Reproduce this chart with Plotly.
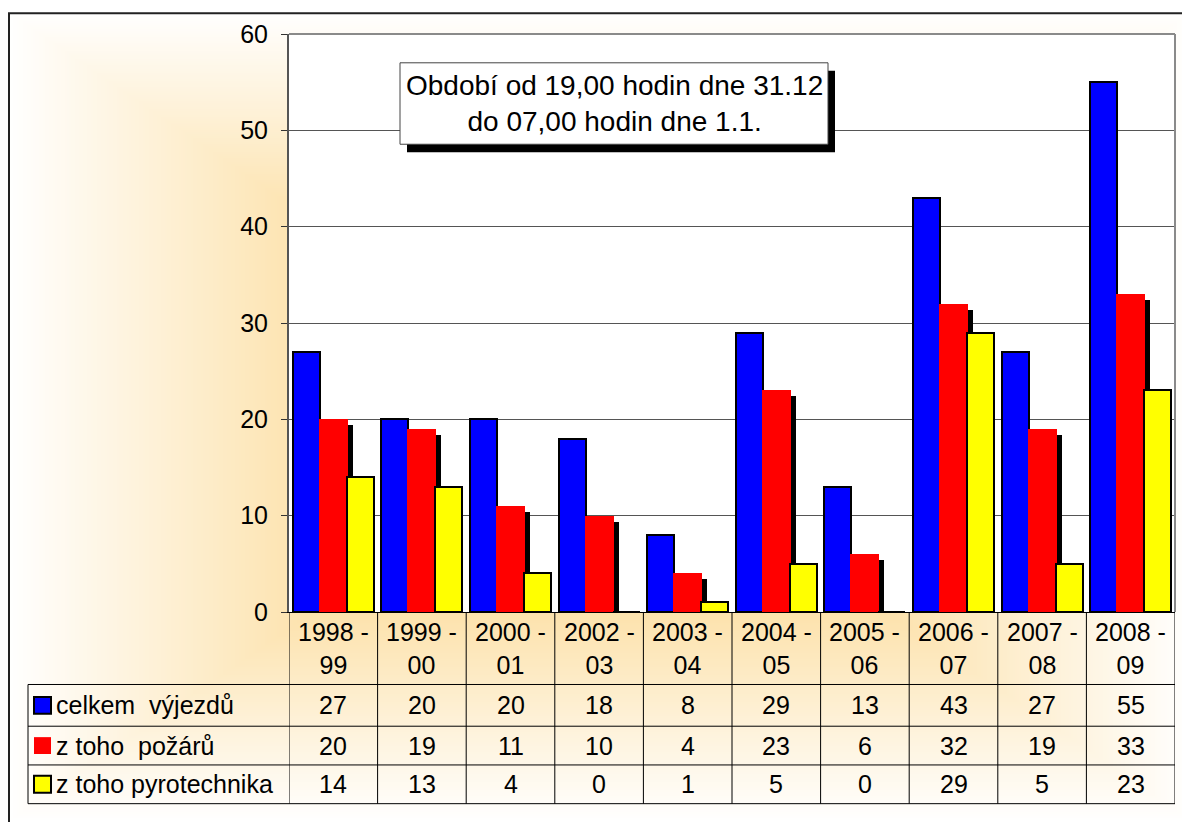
import base64
import struct
import zlib

import numpy as np
import plotly.graph_objects as go

# ---------------- data ----------------
categories = ["1998 - 99", "1999 - 00", "2000 - 01", "2002 - 03", "2003 - 04",
              "2004 - 05", "2005 - 06", "2006 - 07", "2007 - 08", "2008 - 09"]
series_names = ["celkem  výjezdů", "z toho  požárů", "z toho pyrotechnika"]
celkem = [27, 20, 20, 18, 8, 29, 13, 43, 27, 55]
pozaru = [20, 19, 11, 10, 4, 23, 6, 32, 19, 33]
pyro = [14, 13, 4, 0, 1, 5, 0, 29, 5, 23]
y_ticks = [0, 10, 20, 30, 40, 50, 60]
note_lines = ["Období od 19,00 hodin dne 31.12", "do 07,00 hodin dne 1.1."]

# ---------------- geometry (page pixels; the figure sits at an 8px page offset) ----
OFF = 8
W, H = 1190, 822
L, R, T, B = 289, 1175, 30, 612
PW, PH = R - L, B - T
YMAX = 60
FONT = "Liberation Sans, Arial, sans-serif"
FS = 25


def xp(px):
    return (px - L) / PW


def yp(py):
    return (B - py) / PH


ncat = len(categories)
xs = list(range(ncat))
cat_px = PW / ncat
unit_per_px = YMAX / PH


# ---------------- background gradient image ----------------
def png_uri(arr):
    h, w, _ = arr.shape
    raw = b"".join(b"\x00" + arr[i].tobytes() for i in range(h))

    def chunk(tag, data):
        return (struct.pack(">I", len(data)) + tag + data +
                struct.pack(">I", zlib.crc32(tag + data) & 0xFFFFFFFF))

    png = (b"\x89PNG\r\n\x1a\n" +
           chunk(b"IHDR", struct.pack(">IIBBBBB", w, h, 8, 2, 0, 0, 0)) +
           chunk(b"IDAT", zlib.compress(raw, 9)) + chunk(b"IEND", b""))
    return "data:image/png;base64," + base64.b64encode(png).decode()


sc = 2
gw, gh = W // sc, H // sc
gx = OFF + (np.arange(gw) + 0.5) * sc
gy = OFF + (np.arange(gh) + 0.5) * sc
GX, GY = np.meshgrid(gx, gy)
cx, cy, hx, hy = 600.0, 415.0, 592.0, 407.0
t = np.maximum(np.abs(GX - cx) / hx, np.abs(GY - cy) / hy)
t = np.clip(t, 0, 1)
c0 = np.array([250.0, 199.0, 95.0])
img = c0[None, None, :] + t[..., None] * (255.0 - c0[None, None, :])
img = np.clip(np.round(img), 0, 255).astype(np.uint8)
bg_uri = png_uri(img)

# ---------------- figure ----------------
fig = go.Figure()

blue_off, blue_w = -40.5 / cat_px, 27.0 / cat_px
red_off, red_w = -14.5 / cat_px, 29.0 / cat_px
yel_off, yel_w = 13.5 / cat_px, 27.0 / cat_px
shadow_dx, shadow_dy = 5.0 / cat_px, 6.0 * unit_per_px

fig.add_trace(go.Bar(x=xs, y=celkem, offset=blue_off, width=blue_w,
                     marker=dict(color="#0000FF", line=dict(color="black", width=2)),
                     name=series_names[0], showlegend=False))
fig.add_trace(go.Bar(x=xs, y=[max(v - shadow_dy, 0) for v in pozaru],
                     offset=red_off + shadow_dx, width=red_w,
                     marker=dict(color="black", line=dict(width=0)),
                     showlegend=False, hoverinfo="skip"))
fig.add_trace(go.Bar(x=xs, y=pozaru, offset=red_off, width=red_w,
                     marker=dict(color="#FF0000", line=dict(width=0)),
                     name=series_names[1], showlegend=False))
fig.add_trace(go.Bar(x=xs, y=pyro, offset=yel_off, width=yel_w,
                     marker=dict(color="#FFFF00", line=dict(color="black", width=2)),
                     name=series_names[2], showlegend=False))

shapes = []
annotations = []

# white plot area over the gradient
shapes.append(dict(type="rect", xref="paper", yref="paper",
                   x0=0, x1=1, y0=0, y1=1, fillcolor="white",
                   line=dict(width=0), layer="below"))
# outer frame
shapes.append(dict(type="rect", xref="paper", yref="paper",
                   x0=xp(OFF + 1), x1=xp(W + 40), y0=yp(OFF + 1), y1=yp(H + 40),
                   line=dict(color="#222222", width=2), layer="below"))
# plot area border top/right
shapes.append(dict(type="line", xref="paper", yref="paper",
                   x0=xp(L), x1=xp(R), y0=yp(T), y1=yp(T),
                   line=dict(color="#8a8a8a", width=2)))
shapes.append(dict(type="line", xref="paper", yref="paper",
                   x0=xp(R), x1=xp(R), y0=yp(T), y1=yp(B),
                   line=dict(color="#8a8a8a", width=2)))

# note box with shadow
bx0, bx1, by0, by1 = 400, 828, 59, 141
shapes.append(dict(type="rect", xref="paper", yref="paper",
                   x0=xp(bx0 + 7), x1=xp(bx1 + 7), y0=yp(by0 + 8), y1=yp(by1 + 8),
                   fillcolor="black", line=dict(width=0)))
shapes.append(dict(type="rect", xref="paper", yref="paper",
                   x0=xp(bx0), x1=xp(bx1), y0=yp(by0), y1=yp(by1),
                   fillcolor="white", line=dict(color="#444444", width=1)))
annotations.append(dict(xref="paper", yref="paper", x=xp((bx0 + bx1) / 2),
                        y=yp((by0 + by1) / 2), text="<br>".join(note_lines),
                        showarrow=False, xanchor="center", yanchor="middle",
                        font=dict(family=FONT, size=28, color="black")))

# data table
tbl_left = 28
row_lines = [685, 727, 766, 805]
for ry in row_lines:
    shapes.append(dict(type="line", xref="paper", yref="paper",
                       x0=xp(tbl_left), x1=xp(R), y0=yp(ry), y1=yp(ry),
                       line=dict(color="black", width=1)))
for k in range(ncat + 1):
    shapes.append(dict(type="line", xref="x", yref="paper",
                       x0=k - 0.5, x1=k - 0.5, y0=yp(B), y1=yp(row_lines[-1]),
                       line=dict(color="black", width=1)))
shapes.append(dict(type="line", xref="paper", yref="paper",
                   x0=xp(tbl_left), x1=xp(tbl_left), y0=yp(row_lines[0]),
                   y1=yp(row_lines[-1]), line=dict(color="black", width=1)))

# header labels
for i, c in enumerate(categories):
    a, b = c.split(" - ")
    annotations.append(dict(xref="x", yref="paper", x=i, y=yp((B + row_lines[0]) / 2),
                            text=f"{a} -<br>{b}", showarrow=False,
                            xanchor="center", yanchor="middle",
                            font=dict(family=FONT, size=FS, color="black")))

series = [celkem, pozaru, pyro]
key_fill = ["#0000FF", "#FF0000", "#FFFF00"]
key_line = [2, 0, 2]
for r, vals in enumerate(series):
    top, bot = row_lines[r], row_lines[r + 1]
    mid = (top + bot) / 2
    for i, v in enumerate(vals):
        annotations.append(dict(xref="x", yref="paper", x=i, y=yp(mid), text=str(v),
                                showarrow=False, xanchor="center", yanchor="middle",
                                font=dict(family=FONT, size=FS, color="black")))
    shapes.append(dict(type="rect", xref="paper", yref="paper",
                       x0=xp(34), x1=xp(51), y0=yp(mid - 8.5), y1=yp(mid + 8.5),
                       fillcolor=key_fill[r],
                       line=dict(color="black", width=key_line[r])))
    annotations.append(dict(xref="paper", yref="paper", x=xp(54), y=yp(mid),
                            text=series_names[r].replace("  ", "\u00a0 "),
                            showarrow=False, xanchor="left", yanchor="middle",
                            font=dict(family=FONT, size=FS, color="black")))

fig.update_layout(
    width=W, height=H,
    margin=dict(l=L - OFF, r=W + OFF - R, t=T - OFF, b=H + OFF - B, pad=0),
    paper_bgcolor="white", plot_bgcolor="white",
    barmode="overlay", bargap=0,
    showlegend=False,
    shapes=shapes, annotations=annotations,
    images=[dict(source=bg_uri, xref="paper", yref="paper",
                 x=xp(OFF), y=yp(OFF), sizex=W / PW, sizey=H / PH,
                 xanchor="left", yanchor="top", sizing="stretch", layer="below")],
    xaxis=dict(range=[-0.5, ncat - 0.5], showticklabels=False, showgrid=False,
               zeroline=False, showline=True, linecolor="black", linewidth=1,
               ticks="", fixedrange=True),
    yaxis=dict(range=[0, YMAX], tickvals=y_ticks, ticks="outside", ticklen=6,
               tickcolor="#333333", tickwidth=1, showgrid=True, gridcolor="#555555",
               gridwidth=1, zeroline=False, showline=True, linecolor="#555555",
               linewidth=2, ticklabelstandoff=8,
               tickfont=dict(family=FONT, size=FS, color="black"), fixedrange=True),
)

fig.write_html("out.html")
